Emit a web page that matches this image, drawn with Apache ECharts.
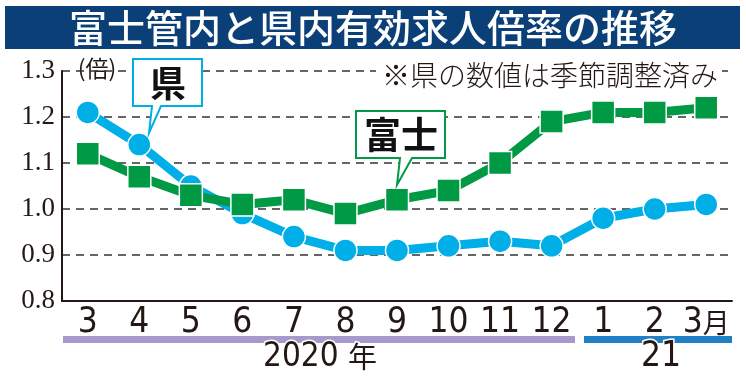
<!DOCTYPE html>
<html><head><meta charset="utf-8">
<script src="https://cdn.jsdelivr.net/npm/echarts@6/dist/echarts.min.js"></script>
<style>html,body{margin:0;padding:0;background:#fff}#c{width:746px;height:377px}</style>
</head><body><div id="c"></div>
<script>
const months = ['3','4','5','6','7','8','9','10','11','12','1','2','3月'];
const ken = [1.21,1.14,1.05,0.99,0.94,0.91,0.91,0.92,0.93,0.92,0.98,1.00,1.01];
const fuji = [1.12,1.07,1.03,1.01,1.02,0.99,1.02,1.04,1.10,1.19,1.21,1.21,1.22];
const yTicks = [0.8,0.9,1.0,1.1,1.2,1.3];

const BLUE='#00aee8', GREEN='#009944', INK='#231815';
const NARROW='"DejaVu Sans Condensed", sans-serif';
const chart = echarts.init(document.getElementById('c'));
chart.setOption({
  animation:false,
  grid:{left:62,right:14,top:71,bottom:76},
  xAxis:{type:'category',data:months,boundaryGap:true,
    axisLine:{lineStyle:{color:INK,width:2}},
    axisTick:{inside:true,length:6,alignWithLabel:true,interval:0,lineStyle:{color:INK,width:1.5}},
    axisLabel:{interval:0,margin:3,color:INK,fontFamily:NARROW,fontSize:35,lineHeight:37,
      formatter:v=>v.endsWith('月')?v.slice(0,-1)+'{m|月}':v,
      rich:{m:{fontFamily:'Noto Sans CJK JP',fontSize:27,color:INK,lineHeight:37}}}},
  yAxis:{type:'value',min:0.8,max:1.3,interval:0.1,
    axisLine:{show:true,lineStyle:{color:INK,width:2}},
    axisTick:{show:false},
    axisLabel:{margin:7,color:INK,fontFamily:'"Liberation Serif", serif',fontSize:27,
      formatter:v=>{const t=yTicks.find(x=>Math.abs(x-v)<1e-6);return t!==undefined?t.toFixed(1):'';}},
    splitLine:{lineStyle:{color:'#333',width:1.5,type:[8,6]}}},
  series:[
    {name:'県',type:'line',data:ken,symbol:'circle',symbolSize:23,z:3,
      lineStyle:{color:BLUE,width:9},itemStyle:{color:BLUE,borderColor:'#fff',borderWidth:1.5}},
    {name:'富士',type:'line',data:fuji,symbol:'rect',symbolSize:23,z:4,
      lineStyle:{color:GREEN,width:9},itemStyle:{color:GREEN,borderColor:'#fff',borderWidth:1.5}}
  ],
  graphic:[
    {type:'rect',shape:{x:5,y:6,width:735,height:43},style:{fill:'#0b3f78'}},
    {type:'text',x:373,y:28,style:{text:'富士管内と県内有効求人倍率の推移',fill:'#fff',font:'500 38px "Noto Sans CJK JP"',align:'center',verticalAlign:'middle'}},
    {type:'text',x:97,y:68,style:{text:'(倍)',fill:INK,font:'23px "Noto Sans CJK JP"',align:'center',verticalAlign:'middle'}},
    {type:'text',x:722,y:75,z:10,style:{text:'※県の数値は季節調整済み',fill:INK,font:'300 28px "Noto Sans CJK JP"',align:'right',verticalAlign:'middle',backgroundColor:'#fff',padding:[0,4,0,6]}},
    {type:'rect',shape:{x:63,y:336,width:512,height:7},style:{fill:'#a59acb'}},
    {type:'rect',shape:{x:584,y:336,width:148,height:7},style:{fill:'#1f80c6'}},
    {type:'text',x:320,y:357,z:10,style:{text:'2020 {n|年}',fill:INK,font:'33px ' + NARROW,align:'center',verticalAlign:'middle',stroke:'#fff',lineWidth:3,
      rich:{n:{font:'29px "Noto Sans CJK JP"',fill:INK}}}},
    {type:'text',x:661,y:357,z:10,style:{text:'21',fill:INK,font:'35px ' + NARROW,align:'center',verticalAlign:'middle',stroke:'#fff',lineWidth:3}},
    {type:'polygon',z:20,shape:{points:[[133,59],[202,59],[202,106],[161,106],[149,133],[152,106],[133,106]]},style:{fill:'#fff',stroke:BLUE,lineWidth:2}},
    {type:'text',z:21,x:168,y:83,style:{text:'県',fill:'#111',font:'bold 36px "Noto Sans CJK JP"',align:'center',verticalAlign:'middle'}},
    {type:'polygon',z:20,shape:{points:[[356,111],[445,111],[445,158],[412,158],[397,185],[400,158],[356,158]]},style:{fill:'#fff',stroke:GREEN,lineWidth:2}},
    {type:'text',z:21,x:401,y:135,style:{text:'富士',fill:'#111',font:'bold 37px "Noto Sans CJK JP"',align:'center',verticalAlign:'middle'}}
  ]
});
</script></body></html>
